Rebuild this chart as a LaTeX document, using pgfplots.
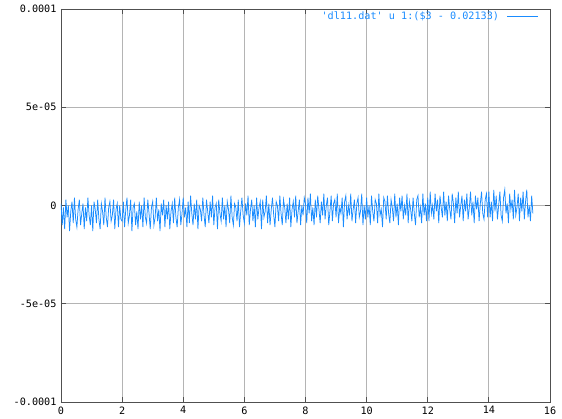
\documentclass[border=0pt]{standalone}
\usepackage{fontspec}
\setmonofont{DejaVu Sans Mono}
\renewcommand{\familydefault}{\ttdefault}
\usepackage{pgfplots}
\pgfplotsset{compat=1.18}
\definecolor{gpblue}{HTML}{1A8CFF}
\definecolor{gpgrid}{HTML}{B4B4B4}
\definecolor{gpframe}{HTML}{505050}

\begin{document}
\ttfamily
\begin{tikzpicture}
% y values are in units of 1e-6
\begin{axis}[
  at={(0,0)}, anchor=south west,
  scale only axis, width=489bp, height=393bp,
  xmin=0, xmax=16, ymin=-100, ymax=100,
  xtick={0,2,...,16}, xticklabels={0,2,4,6,8,10,12,14,16},
  ytick={-100,-50,0,50,100},
  yticklabels={-0.0001,-5e-05,0,5e-05,0.0001},
  tick align=inside, major tick length=5bp,
  grid=major, grid style={gpgrid, line width=0.8bp},
  axis line style={gpframe, line width=0.9bp},
  tick style={gpframe, line width=0.8bp},
  tick label style={font=\ttfamily\fontsize{10.2}{12}\selectfont, text=black},
  xticklabel style={yshift=-1bp},
  yticklabel style={xshift=-1bp},
  legend plot pos=right,
  legend image code/.code={\draw[#1] (0bp,0bp) -- (31bp,0bp);},
  legend style={draw=none, fill=none, at={(0.9775,0.982)}, anchor=east,
    font=\ttfamily\fontsize{10.2}{12}\selectfont, text=gpblue, inner sep=0pt,
    column sep=6bp, legend cell align=right},
]
\addplot[gpblue, line width=0.75bp] coordinates {
(0,1)(0.04,-10)(0.08,-1)(0.12,-12)(0.16,3)(0.2,-6)(0.24,0)(0.28,-13)(0.32,-3)(0.36,2)(0.4,-9)(0.44,4)(0.48,-7)(0.52,-11)(0.56,-2)(0.6,3)(0.64,-10)(0.68,-4)(0.72,1)(0.76,-12)(0.8,-1)(0.84,-8)(0.88,4)(0.92,-5)(0.96,-10)(1,0)(1.04,-13)(1.08,2)(1.12,-2)(1.16,-9)(1.2,3)(1.24,-7)(1.28,-12)(1.32,1)(1.36,-3)(1.4,-10)(1.44,4)(1.48,-6)(1.52,-11)(1.56,-1)(1.6,2)(1.64,-8)(1.68,-5)(1.72,3)(1.76,-12)(1.8,-2)(1.84,1)(1.88,-11)(1.92,0)(1.96,-7)
(2,-8)(2.04,2)(2.08,-11)(2.12,-2)(2.16,4)(2.2,-9)(2.24,-5)(2.28,3)(2.32,-13)(2.36,-1)(2.4,1)(2.44,-10)(2.48,-3)(2.52,-12)(2.56,2)(2.6,-7)(2.64,0)(2.68,-11)(2.72,4)(2.76,-6)(2.8,-9)(2.84,3)(2.88,-4)(2.92,-12)(2.96,-1)(3,2)(3.04,-10)(3.08,-6)(3.12,4)(3.16,-8)(3.2,-2)(3.24,-13)(3.28,1)(3.32,-5)(3.36,3)(3.4,-11)(3.44,0)(3.48,-7)(3.52,2)(3.56,-12)(3.6,-3)(3.64,1)(3.68,-9)(3.72,4)(3.76,-6)(3.8,-11)(3.84,-1)(3.88,3)(3.92,-10)(3.96,-4)
(4,4)(4.04,-6)(4.08,-1)(4.12,-11)(4.16,2)(4.2,-9)(4.24,5)(4.28,-4)(4.32,-10)(4.36,1)(4.4,-7)(4.44,3)(4.48,-12)(4.52,0)(4.56,-2)(4.6,-8)(4.64,4)(4.68,-5)(4.72,-11)(4.76,3)(4.8,-3)(4.84,-9)(4.88,2)(4.92,-6)(4.96,5)(5,-10)(5.04,-1)(5.08,1)(5.12,-12)(5.16,3)(5.2,-4)(5.24,-8)(5.28,4)(5.32,-7)(5.36,0)(5.4,-11)(5.44,2)(5.48,-2)(5.52,-9)(5.56,5)(5.6,-6)(5.64,-10)(5.68,1)(5.72,-1)(5.76,-8)(5.8,3)(5.84,-11)(5.88,-3)(5.92,4)(5.96,-5)
(6,-9)(6.04,1)(6.08,-5)(6.12,5)(6.16,-10)(6.2,-2)(6.24,3)(6.28,-8)(6.32,0)(6.36,-11)(6.4,4)(6.44,-7)(6.48,-1)(6.52,2)(6.56,-12)(6.6,3)(6.64,-6)(6.68,-3)(6.72,5)(6.76,-9)(6.8,1)(6.84,-10)(6.88,-2)(6.92,4)(6.96,-5)(7,-11)(7.04,2)(7.08,0)(7.12,-8)(7.16,5)(7.2,-4)(7.24,-10)(7.28,3)(7.32,-1)(7.36,-9)(7.4,1)(7.44,-7)(7.48,4)(7.52,-11)(7.56,-2)(7.6,2)(7.64,-6)(7.68,5)(7.72,-9)(7.76,-3)(7.8,3)(7.84,-10)(7.88,0)(7.92,-5)(7.96,4)
(8,1)(8.04,-9)(8.08,4)(8.12,-4)(8.16,6)(8.2,-8)(8.24,-1)(8.28,-10)(8.32,3)(8.36,-6)(8.4,5)(8.44,-2)(8.48,-9)(8.52,2)(8.56,-5)(8.6,6)(8.64,-7)(8.68,0)(8.72,4)(8.76,-10)(8.8,-3)(8.84,5)(8.88,-8)(8.92,1)(8.96,3)(9,-6)(9.04,6)(9.08,-9)(9.12,-1)(9.16,-4)(9.2,4)(9.24,-11)(9.28,2)(9.32,5)(9.36,-7)(9.4,0)(9.44,-5)(9.48,6)(9.52,-8)(9.56,-2)(9.6,3)(9.64,-9)(9.68,1)(9.72,4)(9.76,-6)(9.8,-3)(9.84,6)(9.88,-10)(9.92,0)(9.96,-7)
(10,4)(10.04,-6)(10.08,0)(10.12,-10)(10.16,5)(10.2,-3)(10.24,-8)(10.28,3)(10.32,1)(10.36,-9)(10.4,6)(10.44,-5)(10.48,-2)(10.52,-11)(10.56,4)(10.6,2)(10.64,-7)(10.68,5)(10.72,-4)(10.76,-9)(10.8,3)(10.84,-1)(10.88,-8)(10.92,6)(10.96,-6)(11,1)(11.04,-10)(11.08,4)(11.12,-3)(11.16,5)(11.2,-7)(11.24,0)(11.28,-5)(11.32,6)(11.36,-9)(11.4,2)(11.44,-2)(11.48,-8)(11.52,4)(11.56,-4)(11.6,-10)(11.64,3)(11.68,5)(11.72,-6)(11.76,-1)(11.8,-9)(11.84,6)(11.88,-5)(11.92,1)(11.96,-8)
(12,4)(12.04,-8)(12.08,7)(12.12,-4)(12.16,0)(12.2,-7)(12.24,6)(12.28,-3)(12.32,3)(12.36,-9)(12.4,5)(12.44,-1)(12.48,-6)(12.52,7)(12.56,-5)(12.6,2)(12.64,-8)(12.68,5)(12.72,-2)(12.76,-7)(12.8,6)(12.84,1)(12.88,-9)(12.92,4)(12.96,-4)(13,7)(13.04,-6)(13.08,0)(13.12,5)(13.16,-8)(13.2,3)(13.24,-3)(13.28,6)(13.32,-7)(13.36,-1)(13.4,7)(13.44,-5)(13.48,2)(13.52,-9)(13.56,5)(13.6,-2)(13.64,4)(13.68,-8)(13.72,1)(13.76,7)(13.8,-4)(13.84,-7)(13.88,3)(13.92,6)(13.96,-6)
(14,7)(14.04,-6)(14.08,2)(14.12,-8)(14.16,8)(14.2,-3)(14.24,5)(14.28,-7)(14.32,0)(14.36,7)(14.4,-5)(14.44,-8)(14.48,4)(14.52,8)(14.56,-4)(14.6,1)(14.64,-9)(14.68,6)(14.72,-2)(14.76,3)(14.8,-7)(14.84,8)(14.88,-5)(14.92,-1)(14.96,6)(15,-8)(15.04,4)(15.08,-3)(15.12,7)(15.16,-7)(15.2,2)(15.24,8)(15.28,-6)(15.32,0)(15.36,-8)(15.4,5)(15.44,-4)
};
\addlegendentry{'dl11.dat' u 1:(\$3 - 0.02133)}
\end{axis}
\pgfresetboundingbox
\path (-61bp,-17bp) rectangle (501bp,402bp);
\end{tikzpicture}
\end{document}
